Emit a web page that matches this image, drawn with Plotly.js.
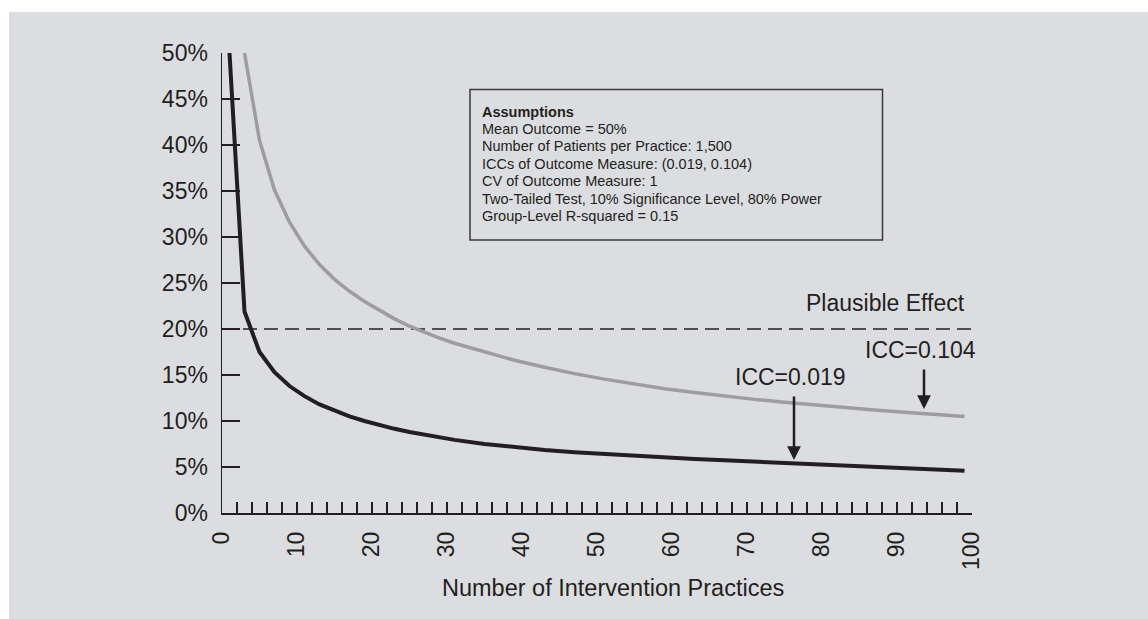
<!DOCTYPE html>
<html>
<head>
<meta charset="utf-8">
<script src="https://cdn.plot.ly/plotly-3.0.1.min.js"></script>
<style>
  html, body { margin: 0; padding: 0; background: #ffffff; }
  #chart { position: absolute; left: 9px; top: 12px; width: 1139px; height: 607px; }
</style>
</head>
<body>
<div id="chart"></div>
<script>
// ---- data ----
var xIcc019 = [1, 3, 5, 7, 9, 11, 13, 15, 17, 19, 21, 23, 25, 27, 29, 31, 35, 39, 43, 47, 51, 55, 59, 63, 67, 71, 75, 79, 83, 87, 91, 95, 99];
var yIcc019 = [50, 21.9, 17.5, 15.3, 13.8, 12.7, 11.8, 11.1, 10.5, 10.0, 9.55, 9.15, 8.8, 8.5, 8.2, 7.95, 7.5, 7.15, 6.85, 6.6, 6.4, 6.2, 6.03, 5.88, 5.73, 5.59, 5.46, 5.33, 5.2, 5.06, 4.93, 4.77, 4.6];

var xIcc104 = [3, 5, 7, 9, 11, 13, 15, 17, 19, 21, 23, 25, 27, 29, 31, 35, 39, 43, 47, 51, 55, 59, 63, 67, 71, 75, 79, 83, 87, 91, 95, 99];
var yIcc104 = [50, 40.5, 35.1, 31.6, 29.0, 27.0, 25.4, 24.1, 23.0, 22.0, 21.1, 20.3, 19.6, 19.0, 18.45, 17.5, 16.6, 15.85, 15.15, 14.55, 14.0, 13.5, 13.1, 12.7, 12.35, 12.05, 11.75, 11.45, 11.2, 10.95, 10.7, 10.5];

var xPlausible = [0, 100];
var yPlausible = [20, 20];

var yTickVals = [0, 5, 10, 15, 20, 25, 30, 35, 40, 45, 50];
var yTickText = ['0%', '5%', '10%', '15%', '20%', '25%', '30%', '35%', '40%', '45%', '50%'];
var xTickVals = [0, 10, 20, 30, 40, 50, 60, 70, 80, 90, 100];
var xTickText = ['0', '10', '20', '30', '40', '50', '60', '70', '80', '90', '100'];

var assumptionLines = [
  '<b>Assumptions</b>',
  'Mean Outcome = 50%',
  'Number of Patients per Practice: 1,500',
  'ICCs of Outcome Measure: (0.019, 0.104)',
  'CV of Outcome Measure: 1',
  'Two-Tailed Test, 10% Significance Level, 80% Power',
  'Group-Level R-squared = 0.15'
];

var xTitle = 'Number of Intervention Practices';
var plausibleLabel = 'Plausible Effect';
var label019 = 'ICC=0.019';
var label104 = 'ICC=0.104';

// ---- styling ----
var FONT = 'Liberation Sans, Arial, Helvetica, sans-serif';
var INK = '#231f20';
var BG = '#dcdde0';

// plot area in page pixels: x 222..972, y 53..513
function px2paperX(px) { return (px - 222) / 750; }
function px2paperY(py) { return (513 - py) / 460; }

var traces = [
  {
    x: xPlausible, y: yPlausible, type: 'scatter', mode: 'lines',
    line: { color: INK, width: 1.3, dash: '14px,7px' },
    hoverinfo: 'skip', showlegend: false
  },
  {
    x: xIcc104, y: yIcc104, type: 'scatter', mode: 'lines', name: label104,
    line: { color: '#9d9d9f', width: 3.5 }, showlegend: false
  },
  {
    x: xIcc019, y: yIcc019, type: 'scatter', mode: 'lines', name: label019,
    line: { color: INK, width: 4 }, showlegend: false
  }
];

var annotations = [];
var lineY0 = 111.5, lineStep = 17.4;
for (var i = 0; i < assumptionLines.length; i++) {
  annotations.push({
    xref: 'paper', yref: 'paper',
    x: px2paperX(480), y: px2paperY(lineY0 + i * lineStep),
    xanchor: 'left', yanchor: 'middle',
    text: assumptionLines[i], showarrow: false,
    font: { family: FONT, size: 14.5, color: INK }
  });
}
annotations.push({
  xref: 'paper', yref: 'paper', x: px2paperX(612.5), y: px2paperY(588),
  xanchor: 'center', yanchor: 'middle', text: xTitle, showarrow: false,
  font: { family: FONT, size: 23.5, color: INK }
});
annotations.push({
  xref: 'paper', yref: 'paper', x: px2paperX(885.5), y: px2paperY(303),
  xanchor: 'center', yanchor: 'middle', text: plausibleLabel, showarrow: false,
  font: { family: FONT, size: 23, color: INK }
});
annotations.push({
  xref: 'paper', yref: 'paper', x: px2paperX(920.5), y: px2paperY(350),
  xanchor: 'center', yanchor: 'middle', text: label104, showarrow: false,
  font: { family: FONT, size: 23, color: INK }
});
annotations.push({
  xref: 'paper', yref: 'paper', x: px2paperX(790.5), y: px2paperY(377),
  xanchor: 'center', yanchor: 'middle', text: label019, showarrow: false,
  font: { family: FONT, size: 23, color: INK }
});
// arrows
annotations.push({
  xref: 'paper', yref: 'paper', x: px2paperX(924), y: px2paperY(409),
  text: '', showarrow: true, ax: 0, ay: -41,
  arrowhead: 2, arrowsize: 1.1, arrowwidth: 2.5, arrowcolor: INK
});
annotations.push({
  xref: 'paper', yref: 'paper', x: px2paperX(794), y: px2paperY(460),
  text: '', showarrow: true, ax: 0, ay: -65,
  arrowhead: 2, arrowsize: 1.1, arrowwidth: 2.5, arrowcolor: INK
});

var layout = {
  width: 1139, height: 607,
  margin: { l: 213, r: 176, t: 41, b: 106, pad: 0 },
  paper_bgcolor: BG, plot_bgcolor: BG,
  showlegend: false,
  font: { family: FONT, color: INK },
  xaxis: {
    range: [0, 100], showgrid: false, zeroline: false,
    showline: true, linecolor: INK, linewidth: 1.5,
    ticks: 'inside', ticklen: 11, tickwidth: 1.3, tickcolor: INK,
    tickvals: xTickVals, ticktext: xTickText, tickangle: -90,
    tickfont: { family: FONT, size: 23, color: INK },
    ticklabelstandoff: 8,
    minor: { dtick: 2, tick0: 0, ticks: 'inside', ticklen: 11, tickwidth: 1.3, tickcolor: INK, showgrid: false },
    fixedrange: true
  },
  yaxis: {
    range: [0, 50], showgrid: false, zeroline: false,
    showline: true, linecolor: INK, linewidth: 1.5,
    ticks: 'inside', ticklen: 18, tickwidth: 1.3, tickcolor: INK,
    tickvals: yTickVals, ticktext: yTickText,
    tickfont: { family: FONT, size: 23, color: INK },
    ticklabelstandoff: 8,
    fixedrange: true
  },
  shapes: [
    {
      type: 'rect', xref: 'paper', yref: 'paper',
      x0: px2paperX(470), x1: px2paperX(882.5),
      y0: px2paperY(240), y1: px2paperY(89.5),
      line: { color: '#3a3a3a', width: 1.5 }, fillcolor: 'rgba(0,0,0,0)', layer: 'above'
    }
  ],
  annotations: annotations
};

Plotly.newPlot('chart', traces, layout, { displayModeBar: false, staticPlot: true });
</script>
</body>
</html>
